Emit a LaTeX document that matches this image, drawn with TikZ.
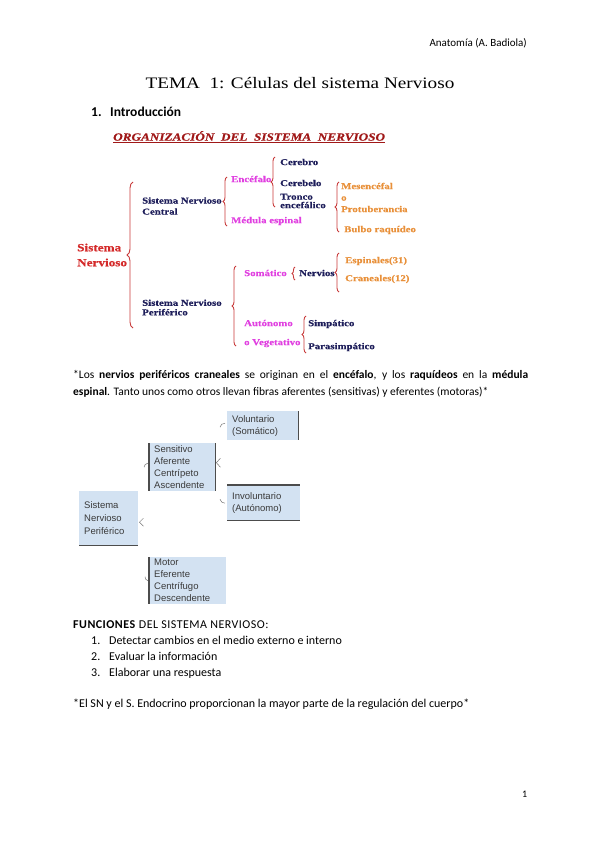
\documentclass[tikz,border=0pt]{standalone}
\usepackage{fontspec}
\setmainfont{Carlito}
\newfontfamily\titlefont[FakeStretch=1.2]{Liberation Serif}
\newfontfamily\orgfont[FakeStretch=1.2,FakeBold=0.6]{Liberation Serif}
\newfontfamily\boxfont{Liberation Sans}
\newfontfamily\widefont[LetterSpace=4]{Carlito}
\usepackage{tikz}
\usetikzlibrary{positioning,decorations.pathreplacing}
\definecolor{orgred}{HTML}{A01818}
\definecolor{snred}{HTML}{D42A2A}
\definecolor{bracered}{HTML}{C83A3A}
\definecolor{snnavy}{HTML}{1E1E5A}
\definecolor{snpink}{HTML}{E040E0}
\definecolor{snorange}{HTML}{E8903A}
\definecolor{boxblue}{HTML}{D3E2F2}
\definecolor{boxtext}{HTML}{3A3A3A}

\begin{document}
\begin{tikzpicture}[x=1pt, y=-1pt,
    txt/.style={anchor=base west, inner sep=0pt, font=\fontsize{12}{14}\selectfont},
    org/.style={anchor=west, inner sep=0pt, align=left, text=snnavy,
                font=\orgfont\bfseries\fontsize{9}{9}\selectfont},
    orgpink/.style={org, text=snpink},
    orgorange/.style={org, text=snorange},
    curly/.style={draw=bracered, line width=0.9pt, decorate,
                  decoration={brace, amplitude=4pt}},
    box/.style={anchor=north west, fill=boxblue, inner xsep=5pt, inner ysep=0pt,
                align=left, text=boxtext, font=\boxfont\fontsize{9.5}{12}\selectfont},
    edge/.style={draw=black!70, line width=1.1pt},
    tick/.style={draw=black!55, line width=0.5pt}]
  \useasboundingbox (0,0) rectangle (599,848);

  % page head
  \node[anchor=base east, inner sep=0pt, font=\fontsize{11}{13}\selectfont] (hdr) at (527,47) {Anatomía (A. Badiola)};
  \node[anchor=base, inner sep=0pt, font=\titlefont\fontsize{16}{19}\selectfont] (title) at (300,89) {TEMA\ \ 1: Células del sistema Nervioso};
  \node[anchor=base west, inner sep=0pt, font=\bfseries\fontsize{13.5}{15}\selectfont] (intronum) at (91,117) {1.};
  \node[anchor=base west, inner sep=0pt, font=\bfseries\fontsize{13.5}{15}\selectfont] (intro) at (110,117) {Introducción};

  % organizacion del sistema nervioso
  \node[org, text=orgred, font=\orgfont\bfseries\itshape\fontsize{11}{12}\selectfont] (orgtitle) at (113,137)
    {\underline{ORGANIZACIÓN\ \ DEL\ \ SISTEMA\ \ NERVIOSO}};
  \node[org, text=snred, font=\orgfont\bfseries\fontsize{11}{15}\selectfont] (sn) at (77,255) {Sistema\\Nervioso};
  \node[org, font=\orgfont\bfseries\fontsize{9}{11}\selectfont] (snc) at (142,206) {Sistema Nervioso\\Central};
  \node[org, font=\orgfont\bfseries\fontsize{9}{9.5}\selectfont] (snp) at (142,307.5) {Sistema Nervioso\\Periférico};
  \node[orgpink] (enc) at (231,179) {Encéfalo};
  \node[orgpink] (med) at (231,221) {Médula espinal};
  \node[org] (cerebro) at (280,162) {Cerebro};
  \node[org] (cerebelo) at (280,183) {Cerebelo};
  \node[org, font=\orgfont\bfseries\fontsize{9}{8.5}\selectfont] (tronco) at (280,201) {Tronco\\encefálico};
  \node[orgorange, font=\orgfont\bfseries\fontsize{9}{11.5}\selectfont] (mesenc) at (341,197.5) {Mesencéfal\\o\\Protuberancia};
  \node[orgorange] (bulbo) at (344,230) {Bulbo raquídeo};
  \node[orgpink] (somatico) at (244,273) {Somático};
  \node[org] (nervios) at (299,273) {Nervios};
  \node[orgorange] (espinales) at (345,261) {Espinales(31)};
  \node[orgorange] (craneales) at (345,279) {Craneales(12)};
  \node[orgpink, font=\orgfont\bfseries\fontsize{9}{19}\selectfont] (autonomo) at (244,333.5) {Autónomo\\o Vegetativo};
  \node[org] (simpatico) at (308,324) {Simpático};
  \node[org] (parasimp) at (308,347) {Parasimpático};

  \draw[curly, decoration={amplitude=6pt}] (133,328) -- (133,182);
  \draw[curly] (227,226) -- (227,177);
  \draw[curly] (275,207) -- (275,157);
  \draw[curly] (339,232) -- (339,182);
  \draw[curly] (236,346) -- (236,266);
  \draw[curly, decoration={amplitude=3pt}] (295,280) -- (295,267);
  \draw[curly] (339,292) -- (339,253);
  \draw[curly] (306,353) -- (306,316);

  % nota
  \node[txt, font=\fontsize{11.5}{14}\selectfont] (note1) at (73,378.5) {\makebox[455pt][s]{*Los \textbf{nervios periféricos craneales} se originan en el \textbf{encéfalo}, y los \textbf{raquídeos} en la \textbf{médula}}};
  \node[txt, font=\fontsize{11.5}{14}\selectfont] (note2) at (73,395.5) {\textbf{espinal}. Tanto unos como otros llevan fibras aferentes (sensitivas) y eferentes (motoras)*};

  % sistema nervioso periferico
  \node[box, text width=49pt, minimum height=54pt, font=\boxfont\fontsize{9.5}{13}\selectfont] (snpbox) at (79,491) {Sistema\\Nervioso\\Periférico};
  \node[box, text width=56pt, minimum height=48pt] (sensbox) at (149,443) {Sensitivo\\Aferente\\Centrípeto\\Ascendente};
  \node[box, text width=61pt, minimum height=29pt] (volbox) at (227,411) {Voluntario\\(Somático)};
  \node[box, text width=63pt, minimum height=35pt] (invbox) at (227,485) {Involuntario\\(Autónomo)};
  \node[box, text width=67pt, minimum height=47pt] (motbox) at (149,557) {Motor\\Eferente\\Centrífugo\\Descendente};

  \draw[edge] (snpbox.south west) -- (snpbox.south east);
  \draw[edge] (sensbox.north west) -- (sensbox.south west);
  \draw[edge] (sensbox.north east) -- (sensbox.south east);
  \draw[edge] (volbox.north east) -- (volbox.south east);
  \draw[edge] (invbox.north west) -- (invbox.north east);
  \draw[edge] (invbox.south west) -- (invbox.south east);
  \draw[edge] (motbox.north west) -- (motbox.south west);

  \draw[tick] ([xshift=5pt]snpbox.east) -- ++(-4pt,-4pt) -- ++(4pt,-4pt);
  \draw[tick] ([xshift=5pt,yshift=9pt]sensbox.east) -- ++(-4pt,-4.5pt) -- ++(4pt,-4.5pt);
  \draw[tick] ([xshift=-5pt]sensbox.west) to[bend left=40] ++(4pt,4pt);
  \draw[tick] ([xshift=-4pt,yshift=4pt]motbox.west) to[bend right=40] ++(3pt,-4pt);
  \draw[tick] ([xshift=-7pt,yshift=-1.5pt]volbox.west) to[bend left=40] ++(5pt,4pt);
  \draw[tick] ([xshift=-7pt,yshift=3.5pt]invbox.west) to[bend right=40] ++(5pt,-4pt);

  % funciones
  \node[txt, font=\widefont\fontsize{12}{14}\selectfont] (funct) at (73,628.5) {\textbf{FUNCIONES} DEL SISTEMA NERVIOSO:};
  \node[txt] (n1) at (91,644.5) {1.};
  \node[txt] (f1) at (109,644.5) {Detectar cambios en el medio externo e interno};
  \node[txt] (n2) at (91,660.5) {2.};
  \node[txt] (f2) at (109,660.5) {Evaluar la información};
  \node[txt] (n3) at (91,676.5) {3.};
  \node[txt] (f3) at (109,676.5) {Elaborar una respuesta};
  \node[txt] (endnote) at (73,707.5) {*El SN y el S. Endocrino proporcionan la mayor parte de la regulación del cuerpo*};

  \node[anchor=base west, inner sep=0pt, font=\fontsize{10}{12}\selectfont] (pagenum) at (522,797) {1};
\end{tikzpicture}
\end{document}
